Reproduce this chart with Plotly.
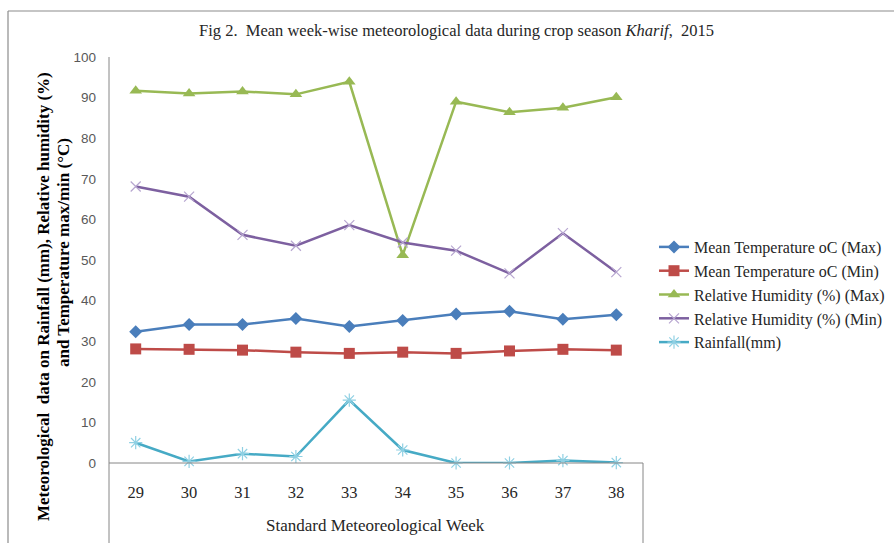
import plotly.graph_objects as go

# Standard meteorological weeks (Kharif 2015)
weeks = ["29", "30", "31", "32", "33", "34", "35", "36", "37", "38"]
temp_max = [32.3, 34.1, 34.1, 35.6, 33.6, 35.1, 36.7, 37.4, 35.4, 36.5]
temp_min = [28.1, 28.0, 27.8, 27.3, 27.0, 27.3, 27.0, 27.6, 28.0, 27.8]
rh_max = [91.7, 91.0, 91.5, 90.8, 93.9, 51.2, 89.0, 86.4, 87.5, 90.1]
rh_min = [68.1, 65.6, 56.2, 53.5, 58.6, 54.3, 52.3, 46.7, 56.6, 47.0]
rainfall = [5.0, 0.4, 2.3, 1.6, 15.5, 3.2, 0.0, 0.0, 0.6, 0.1]

W, H = 894, 543
L, R, T, B = 109, 643, 57, 463  # plot area in pixels

def px_x(p):
    return (p - L) / (R - L)

def px_y(p):
    return (B - p) / (B - T)

SERIF = "Liberation Serif, Times New Roman, serif"
x_idx = list(range(len(weeks)))

series = [
    ("Mean Temperature oC (Max)", temp_max, "#4A7EBB", dict(symbol="diamond", size=10, color="#4A7EBB")),
    ("Mean Temperature oC (Min)", temp_min, "#BE4B48", dict(symbol="square", size=11, color="#BE4B48")),
    ("Relative Humidity (%) (Max)", rh_max, "#98B954", dict(symbol="triangle-up", size=11, color="#98B954")),
    ("Relative Humidity (%) (Min)", rh_min, "#7D60A0", dict(symbol="x-thin-open", size=10, color="#B7A6D0", line=dict(width=1.2, color="#B7A6D0"))),
    ("Rainfall(mm)", rainfall, "#46AAC5", dict(symbol="asterisk-open", size=11, color="#8FD0E3", line=dict(width=1.2, color="#8FD0E3"))),
]

fig = go.Figure()
for name, vals, col, mk in series:
    fig.add_trace(go.Scatter(
        x=x_idx, y=vals, name=name, mode="lines+markers",
        line=dict(color=col, width=2.5), marker=mk, cliponaxis=False,
    ))

shape_line = dict(color="#868686", width=1)
shapes = [
    # y axis continuing down through the category band
    dict(type="line", xref="paper", yref="paper", x0=0, x1=0, y0=px_y(T), y1=px_y(H), line=shape_line),
    # category band right edge
    dict(type="line", xref="paper", yref="paper", x0=1, x1=1, y0=0, y1=px_y(H), line=shape_line),
    # zero line
    dict(type="line", xref="paper", yref="paper", x0=0, x1=1, y0=0, y1=0, line=shape_line),
    # outer chart frame
    dict(type="line", xref="paper", yref="paper", x0=px_x(8), x1=px_x(W + 5), y0=px_y(11), y1=px_y(11), line=dict(color="#8C8C8C", width=1.2)),
    dict(type="line", xref="paper", yref="paper", x0=px_x(8), x1=px_x(8), y0=px_y(11), y1=px_y(H + 5), line=dict(color="#8C8C8C", width=1.2)),
]

annotations = [
    dict(text="Fig 2.  Mean week-wise meteorological data during crop season <i>Kharif</i>,  2015",
         xref="paper", yref="paper", x=px_x(456), y=px_y(31), showarrow=False,
         font=dict(family=SERIF, size=16.5, color="#262626"), xanchor="center", yanchor="middle"),
    dict(text="Standard Meteoreological Week", xref="paper", yref="paper",
         x=px_x(375), y=px_y(525), showarrow=False,
         font=dict(family=SERIF, size=17, color="#262626"), xanchor="center", yanchor="middle"),
    dict(text="<b>Meteorological  data on Rainfall (mm), Relative humidity (%)</b>",
         xref="paper", yref="paper", x=px_x(43), y=px_y(297), showarrow=False, textangle=-90,
         font=dict(family=SERIF, size=17, color="#000000"), xanchor="center", yanchor="middle"),
    dict(text="<b>and Temperature max/min (°C)</b>",
         xref="paper", yref="paper", x=px_x(63), y=px_y(253), showarrow=False, textangle=-90,
         font=dict(family=SERIF, size=17, color="#000000"), xanchor="center", yanchor="middle"),
]

fig.update_layout(
    width=W, height=H,
    margin=dict(l=L, r=W - R, t=T, b=H - B, autoexpand=False),
    paper_bgcolor="white", plot_bgcolor="white",
    showlegend=True,
    legend=dict(x=px_x(654), y=px_y(230), xanchor="left", yanchor="top",
                font=dict(family=SERIF, size=16, color="#262626"),
                bgcolor="rgba(0,0,0,0)", tracegroupgap=0, itemwidth=30),
    shapes=shapes, annotations=annotations,
    xaxis=dict(range=[-0.5, len(weeks) - 0.5], tickmode="array", tickvals=x_idx, ticktext=weeks,
               showgrid=False, zeroline=False, showline=False, ticks="",
               tickfont=dict(family=SERIF, size=16.5, color="#262626"), ticklabelstandoff=17),
    yaxis=dict(range=[0, 100], dtick=10, showgrid=False, zeroline=False, showline=False, ticks="",
               tickfont=dict(family="Liberation Sans, Arial, sans-serif", size=13.5, color="#595959"),
               ticklabelstandoff=12),
)

fig.write_html("out.html")
